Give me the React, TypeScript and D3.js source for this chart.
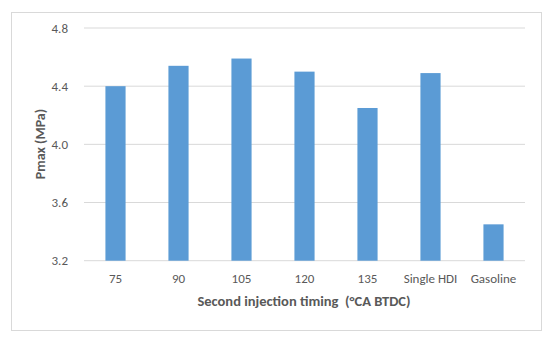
import React, { useEffect, useRef } from 'react';
import * as d3 from 'd3';

const categories = ['75', '90', '105', '120', '135', 'Single HDI', 'Gasoline'];
const pmax = [4.4, 4.54, 4.59, 4.5, 4.25, 4.49, 3.45];
const yTicks = [3.2, 3.6, 4.0, 4.4, 4.8];

const App = () => {
  const svgRef = useRef<SVGSVGElement>(null);

  useEffect(() => {
    const w = 550, h = 338;
    const svg = d3.select(svgRef.current)
      .attr('width', w)
      .attr('height', h)
      .style('position', 'absolute')
      .style('left', 0)
      .style('top', 0)
      .style('font-family', 'Carlito, Calibri, "Open Sans", sans-serif');
    svg.selectAll('*').remove();

    // chart frame
    svg.append('rect')
      .attr('x', 11.5).attr('y', 12.5)
      .attr('width', 530).attr('height', 318)
      .attr('fill', '#fff')
      .attr('stroke', '#d9d9d9');

    const left = 84, right = 525, top = 28, bottom = 260.7;

    const x = d3.scaleBand().domain(categories).range([left, right]).paddingInner(0.68).paddingOuter(0.34);
    const y = d3.scaleLinear().domain([3.2, 4.8]).range([bottom, top]);

    // gridlines
    svg.append('g')
      .selectAll('line')
      .data(yTicks)
      .join('line')
      .attr('x1', left).attr('x2', right)
      .attr('y1', d => y(d)).attr('y2', d => y(d))
      .attr('stroke', '#d9d9d9')
      .attr('stroke-width', 1);

    // bars
    svg.append('g')
      .selectAll('rect')
      .data(pmax)
      .join('rect')
      .attr('x', (d, i) => x(categories[i])!)
      .attr('y', d => y(d))
      .attr('width', x.bandwidth())
      .attr('height', d => bottom - y(d))
      .attr('fill', '#5b9bd5');

    // y tick labels
    svg.append('g')
      .selectAll('text')
      .data(yTicks)
      .join('text')
      .attr('x', 68)
      .attr('y', d => y(d))
      .attr('dy', '0.35em')
      .attr('text-anchor', 'end')
      .attr('font-size', 13)
      .attr('fill', '#595959')
      .text(d => d.toFixed(1));

    // x tick labels
    svg.append('g')
      .selectAll('text')
      .data(categories)
      .join('text')
      .attr('x', d => x(d)! + x.bandwidth() / 2)
      .attr('y', 278)
      .attr('dy', '0.35em')
      .attr('text-anchor', 'middle')
      .attr('font-size', 13)
      .attr('fill', '#595959')
      .text(d => d);

    // axis titles
    svg.append('text')
      .attr('x', 304)
      .attr('y', 301)
      .attr('dy', '0.35em')
      .attr('text-anchor', 'middle')
      .attr('font-size', 14.5)
      .attr('font-weight', 'bold')
      .attr('fill', '#595959')
      .style('white-space', 'pre')
      .text('Second injection timing  (°CA BTDC)');

    svg.append('text')
      .attr('transform', `translate(40, 144) rotate(-90)`)
      .attr('dy', '0.35em')
      .attr('text-anchor', 'middle')
      .attr('font-size', 14)
      .attr('font-weight', 'bold')
      .attr('fill', '#595959')
      .text('Pmax (MPa)');
  }, []);

  return (
    <div>
      <svg ref={svgRef}></svg>
    </div>
  );
};

export default App;
